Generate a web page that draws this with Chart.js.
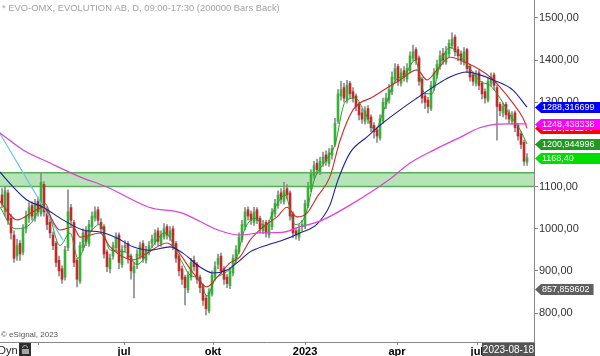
<!DOCTYPE html>
<html><head><meta charset="utf-8">
<script src="https://cdn.jsdelivr.net/npm/chart.js@4/dist/chart.umd.min.js"></script>
<style>html,body{margin:0;padding:0;background:#fff;overflow:hidden}#wrap{width:600px;height:356px}</style>
</head><body><div id="wrap"><canvas id="c" width="600" height="356"></canvas></div>
<script>
// ---- data ----
const opens = [1080,1040,1085,1025,985,935,965,945,1000,1025,
1055,1025,1065,1035,1105,1045,1015,985,965,925,
905,885,955,1050,1015,925,875,955,995,965,
1005,1025,1045,1015,1005,945,905,935,955,985,
915,955,965,935,895,915,935,965,925,945,
965,970,995,965,980,1005,980,1000,965,935,
905,885,855,885,925,915,885,865,835,805,
845,885,915,935,905,885,865,895,925,945,
975,1005,1045,1035,1015,1045,1025,995,1015,985,
1005,1035,1055,1085,1065,1095,1085,1035,995,980,
1005,1005,1055,1095,1125,1155,1135,1155,1175,1155,
1175,1200,1255,1315,1335,1305,1345,1325,1315,1295,
1275,1255,1285,1265,1245,1235,1215,1255,1295,1305,
1325,1355,1385,1345,1375,1355,1375,1405,1425,1405,
1355,1315,1305,1285,1335,1365,1385,1415,1395,1415,
1435,1455,1425,1415,1395,1425,1385,1365,1345,1370,
1345,1325,1305,1345,1365,1335,1295,1275,1295,1275,
1255,1275,1245,1225,1205,1158];
const highs = [1095,1100,1092,1035,995,975,972,1010,1042,1062,
1064,1070,1075,1132,1112,1052,1022,992,970,935,
912,958,1092,1058,1020,930,968,1000,1005,1020,
1040,1052,1052,1024,1010,950,940,968,990,990,
960,972,970,940,920,950,968,972,958,970,
985,998,1002,995,1012,1010,1005,1006,970,940,
912,890,898,930,935,920,890,870,842,858,
900,922,940,942,910,892,908,938,960,990,
1020,1050,1052,1042,1051,1050,1030,1020,1020,1020,
1048,1070,1090,1095,1110,1105,1090,1040,1002,1010,
1020,1068,1110,1140,1160,1165,1170,1182,1185,1190,
1198,1262,1330,1350,1345,1352,1350,1335,1320,1300,
1285,1290,1292,1270,1252,1240,1270,1310,1322,1342,
1372,1392,1390,1380,1385,1392,1420,1436,1430,1410,
1360,1322,1312,1350,1380,1400,1422,1428,1432,1448,
1465,1460,1432,1422,1430,1428,1390,1372,1375,1376,
1350,1332,1358,1370,1370,1340,1300,1298,1300,1282,
1278,1280,1250,1230,1210,1178];
const lows = [1050,1030,1010,975,920,925,925,938,990,1015,
1020,1018,1030,1030,1030,998,978,950,910,888,
870,878,948,1005,910,862,870,948,960,958,
995,1018,1010,990,930,898,895,928,948,905,
908,945,918,880,836,905,928,920,918,938,
955,962,960,958,975,975,972,950,920,888,
868,819,848,878,900,870,848,818,795,800,
840,878,905,892,868,860,858,888,918,940,
968,998,1020,1010,1008,1012,990,988,980,978,
998,1028,1048,1060,1058,1070,1020,978,975,972,
995,1000,1050,1088,1118,1130,1128,1148,1150,1148,
1165,1195,1250,1305,1300,1298,1310,1300,1280,1258,
1250,1248,1250,1230,1215,1205,1210,1250,1285,1298,
1318,1348,1340,1338,1350,1348,1370,1398,1390,1340,
1298,1285,1275,1280,1328,1358,1378,1390,1390,1408,
1428,1410,1398,1390,1388,1370,1350,1340,1338,1330,
1308,1298,1300,1338,1330,1210,1268,1265,1260,1250,
1248,1230,1210,1190,1150,1150];
const closes = [1060,1090,1020,990,930,960,940,1000,1030,1050,
1030,1060,1040,1110,1040,1010,990,960,920,900,
880,950,1040,1020,920,880,960,990,970,1010,
1030,1040,1020,1000,940,910,930,960,980,920,
950,960,930,900,910,940,960,930,950,960,
975,990,970,985,1000,985,995,960,930,900,
880,860,890,920,910,880,860,830,810,850,
890,910,930,900,880,870,900,930,950,980,
1010,1040,1030,1020,1040,1020,1000,1010,990,1010,
1040,1060,1080,1070,1090,1080,1030,990,985,1000,
1010,1060,1100,1130,1150,1140,1160,1170,1160,1180,
1190,1250,1320,1330,1310,1340,1320,1310,1290,1270,
1260,1280,1260,1240,1230,1220,1260,1300,1310,1330,
1360,1380,1350,1370,1360,1380,1410,1420,1400,1350,
1310,1300,1290,1340,1370,1390,1410,1400,1420,1440,
1450,1420,1410,1400,1420,1380,1360,1350,1365,1340,
1320,1310,1350,1360,1340,1290,1280,1290,1270,1260,
1270,1240,1220,1200,1160,1168.4];

// moving averages read as [bar, value]
const maFast = [[-1,1055],[4.3,1000],[9.3,1010],[14.3,1060],[19.3,960],[22.7,990],[25.3,930],[29.3,990],[32.7,1010],[36,950],[41,945],[45,915],[49.3,950],[54.3,990],[59.3,930],[62.7,890],[66,880],[68.3,840],[71,880],[74.3,895],[77.7,920],[81,1000],[84.3,1025],[87.7,1005],[91,1050],[94.3,1080],[97.7,1010],[101,1030],[104.3,1120],[107.7,1160],[111,1200],[114.3,1300],[117.7,1310],[121,1275],[124.3,1235],[127.7,1290],[131,1350],[134.3,1365],[137.7,1400],[141,1320],[143.3,1320],[146,1390],[149.3,1430],[152.7,1410],[156,1380],[159.3,1350],[162.7,1340],[166,1310],[169.3,1270],[172.7,1235],[175,1200.94]];
const maRed = [[-1,1068],[5,1021],[10.3,1040],[13.7,1051],[19.3,997],[23.7,1004],[26,980],[32.7,990],[36,957],[43.7,926],[48.3,942],[55,966],[58.3,949],[63.7,895],[68.3,862],[71.7,885],[76,919],[79.3,933],[82.7,973],[87,1004],[91.7,1028],[95,1051],[98.3,1028],[101.7,1037],[105,1075],[109.3,1123],[112.7,1210],[117,1282],[123.7,1313],[128.3,1334],[132.7,1353],[138.3,1377],[141.7,1353],[145,1377],[149.3,1407],[155,1393],[159.3,1377],[162.7,1360],[166,1336],[170.3,1298],[173.7,1262],[175,1238]];
const maBlue = [[-1,1137],[3.7,1099],[8.3,1068],[13.7,1051],[20.3,1021],[27,997],[32.7,992],[38.3,978],[43.7,957],[49.3,949],[56,957],[60.3,942],[66,909],[70.3,895],[75,902],[78.3,919],[82.7,945],[88.3,961],[93.7,973],[99.3,990],[105,1011],[109.3,1056],[112,1116],[116,1180],[121.7,1218],[127,1251],[132.7,1282],[138.3,1310],[143.7,1336],[149.3,1360],[155,1372],[159.3,1365],[163.7,1353],[170.3,1329],[175,1288.32]];
const maMagenta = [[-1,1229],[7,1187],[16,1156],[26,1123],[35,1099],[49,1051],[60,1037],[72,997],[79,985],[86,990],[94,992],[99,1004],[106,1018],[116,1056],[129,1116],[136,1156],[144,1187],[153,1218],[159,1239],[165,1248],[169,1249],[175,1248.44]];
const trendLine = [[-0.7,1226],[20.3,973]];
const zone = [1100, 1133];

const yTicks = [800,900,1000,1100,1200,1300,1400,1500];
const quarterTicks = [12, 40.67, 70.33, 101, 131.67, 158.33];
const quarterLabels = ['', 'jul', 'okt', '2023', 'apr', 'jul'];
const lastDate = '2023-08-18';
const valueLabelTexts = ['1238,391177','1248,438338','1288,316699','1200,944996','1168,40','857,859602'];
const titleText = '* EVO-OMX, EVOLUTION AB, D, 09:00-17:30 (200000 Bars Back)';
const copyrightText = '\u00A9 eSignal, 2023';

// ---- styles ----
const FONT = '"Liberation Sans", Arial, sans-serif';
const labelColors = ['#ff0000','#ff00ff','#0000ff','#1f9a1f','#00dd00','#5f5f5f'];
const labelFull = [true,true,true,true,true,false];
const UP = '#36b336', DOWN = '#c42a2a', WICK = '#8c8c8c';

const pts = arr => arr.map(p => ({x: p[0], y: p[1]}));
const bodies = opens.map((o, i) => ({x: i, y: [o, closes[i]]}));
const wicks = lows.map((l, i) => ({x: i, y: [l, highs[i]]}));
const candleColor = ctx => closes[ctx.dataIndex] >= opens[ctx.dataIndex] ? UP : DOWN;

const lineDs = (data, color, w) => ({type:'line', data: pts(data), borderColor: color, borderWidth: w,
  pointRadius: 0, cubicInterpolationMode: 'monotone', order: 1});

const overlay = {
  id: 'overlay',
  beforeDatasetsDraw(chart) {
    const {ctx, chartArea: a, scales: {y}} = chart;
    const yt = y.getPixelForValue(zone[1]), yb = y.getPixelForValue(zone[0]);
    ctx.save();
    ctx.fillStyle = '#b6e4b6';
    ctx.fillRect(a.left, yt, a.right - a.left, yb - yt);
    ctx.strokeStyle = '#52b152'; ctx.lineWidth = 1.5;
    ctx.beginPath();
    ctx.moveTo(a.left, yt); ctx.lineTo(a.right, yt);
    ctx.moveTo(a.left, yb); ctx.lineTo(a.right, yb);
    ctx.stroke();
    ctx.restore();
  },
  afterDraw(chart) {
    const {ctx, chartArea: a, scales: {y}} = chart;
    ctx.save();
    ctx.textAlign = 'left';
    ctx.textBaseline = 'alphabetic';
    ctx.font = '9.4px ' + FONT; ctx.fillStyle = '#a3a3a3';
    ctx.fillText(titleText, 2, 11);
    ctx.font = '8px ' + FONT; ctx.fillStyle = '#555';
    ctx.fillText(copyrightText, 1, 337);
    ctx.font = '11px ' + FONT; ctx.fillStyle = '#222';
    ctx.fillText('Dyn', -2, 354);
    // lock icon
    ctx.fillStyle = '#2e2e2e'; ctx.fillRect(19, 343, 12, 13);
    ctx.strokeStyle = '#a8a8a8'; ctx.lineWidth = 1;
    ctx.beginPath(); ctx.arc(25, 348, 2.5, Math.PI, 0); ctx.stroke();
    ctx.fillStyle = '#a8a8a8'; ctx.fillRect(22, 349, 7, 5);
    // date box
    ctx.font = '10px ' + FONT;
    const tw = ctx.measureText(lastDate).width;
    ctx.fillStyle = '#555'; ctx.fillRect(a.right - tw - 1, 343, tw + 2, 13);
    ctx.fillStyle = '#fff'; ctx.textBaseline = 'middle';
    ctx.fillText(lastDate, a.right - tw, 350);
    // value labels
    ctx.font = '9px ' + FONT;
    valueLabelTexts.forEach((t, k) => {
      const v = parseFloat(t.replace(',', '.'));
      const py = Math.round(y.getPixelForValue(v)) + 0.5;
      const x0 = a.right + 1, h = 11;
      const right = labelFull[k] ? 600 : x0 + 7 + ctx.measureText(t).width + 4;
      ctx.fillStyle = labelColors[k];
      ctx.beginPath();
      ctx.moveTo(x0, py); ctx.lineTo(x0 + 6, py - h / 2); ctx.lineTo(right, py - h / 2);
      ctx.lineTo(right, py + h / 2); ctx.lineTo(x0 + 6, py + h / 2); ctx.closePath();
      ctx.fill();
      ctx.fillStyle = '#fff';
      ctx.fillText(t, x0 + 7, py + 0.5);
    });
    ctx.restore();
  }
};

new Chart(document.getElementById('c'), {
  type: 'line',
  data: {
    datasets: [
      lineDs(maMagenta, '#dd3fdd', 1.2),
      lineDs(maBlue, '#1e1e9e', 1.1),
      lineDs(maRed, '#cf2b2b', 1.1),
      lineDs(maFast, '#2a9a2a', 1),
      lineDs(trendLine, '#6cc4ea', 1.2),
      {type:'bar', data: bodies, backgroundColor: candleColor, borderWidth: 0, barThickness: 2,
       minBarLength: 1, grouped: false, order: 5},
      {type:'bar', data: wicks, backgroundColor: WICK, borderWidth: 0, barThickness: 1,
       grouped: false, order: 6}
    ]
  },
  plugins: [overlay],
  options: {
    responsive: false, animation: false, devicePixelRatio: 1,
    layout: {padding: 0},
    plugins: {legend: {display: false}, tooltip: {enabled: false}},
    scales: {
      x: {
        type: 'linear', min: -0.67, max: 177.33, position: 'bottom', offset: false,
        grid: {drawOnChartArea: false, drawTicks: true, tickLength: 3, color: '#888', offset: false},
        border: {color: '#888'},
        ticks: {font: {family: FONT, size: 11, weight: 'bold'}, color: '#000', padding: 0,
          maxRotation: 0, autoSkip: false, callback: (v, i) => quarterLabels[i]},
        afterBuildTicks: s => { s.ticks = quarterTicks.map(v => ({value: v})); },
        afterFit: s => { s.height = 14; s.paddingLeft = 0; s.paddingRight = 0; }
      },
      y: {
        type: 'linear', position: 'right', min: 731.2, max: 1542.7,
        grid: {drawOnChartArea: false, tickLength: 4, color: '#888'},
        border: {color: '#888'},
        ticks: {font: {family: FONT, size: 11}, color: '#333', padding: 1,
          callback: v => v.toFixed(2).replace('.', ',')},
        afterBuildTicks: s => { s.ticks = yTicks.map(v => ({value: v})); },
        afterFit: s => { s.width = 66; s.paddingTop = 0; s.paddingBottom = 0; }
      }
    }
  }
});
</script>
</body></html>
